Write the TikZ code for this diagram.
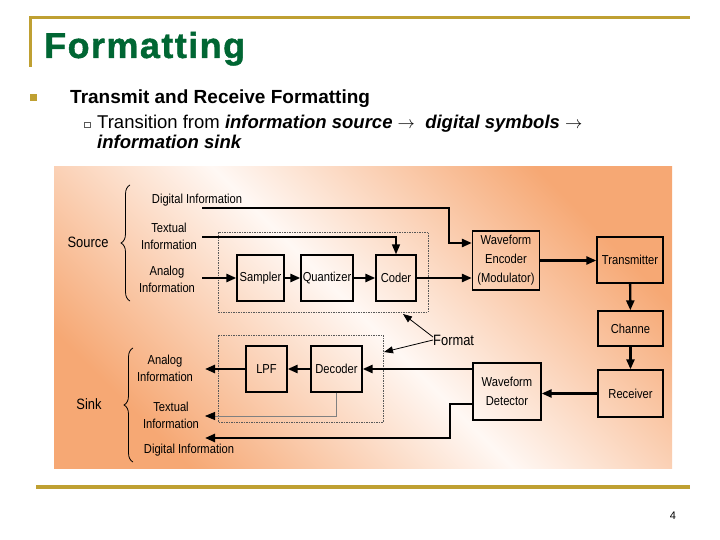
\documentclass[tikz,border=0pt]{standalone}
\usepackage{fontspec}
\setmainfont{Liberation Sans}
\newfontfamily\diagfont[FakeStretch=0.86]{Liberation Sans}
\newfontfamily\titlefont[LetterSpace=4,FakeBold=1.2]{Liberation Sans Bold}
\usetikzlibrary{arrows.meta,decorations.pathreplacing}
\definecolor{slidegold}{RGB}{191,160,50}
\definecolor{titlegreen}{RGB}{0,102,51}
\definecolor{peach}{RGB}{246,168,116}
\definecolor{cream}{RGB}{255,248,244}

\begin{document}
\begin{tikzpicture}[x=1pt, y=-1pt,
    blk/.style={draw, line width=1.3pt, inner sep=1pt, align=center,
      font=\diagfont\fontsize{13}{19}\selectfont},
    lbl/.style={align=center, inner sep=0pt,
      font=\diagfont\fontsize{13}{17}\selectfont},
    flow/.style={line width=2.4pt, -{Triangle[length=10pt,width=8pt]}},
    thinflow/.style={line width=0.8pt, -{Triangle[length=9pt,width=7pt]}},
    fmtbox/.style={dash pattern=on 1.5pt off 1pt, line width=0.8pt, gray!70!black},
    bracket/.style={decorate, decoration={brace, amplitude=9pt}, line width=0.8pt}]
    \useasboundingbox (0,0) rectangle (720,540);
    \fill[white] (0,0) rectangle (720,540);

    % Slide frame and heading.
    \draw[slidegold, line width=3pt] (30,18) -- (690,18);
    \draw[slidegold, line width=3pt] (30,16.5) -- (30,67);
    \draw[slidegold, line width=4pt] (36,487) -- (690,487);
    \node[anchor=base west, inner sep=0, text=titlegreen,
      font=\titlefont\fontsize{36}{40}\selectfont] (title) at (44,58) {Formatting};

    % Bullets.
    \fill[slidegold] (29.5,94.5) rectangle (36.5,101.5);
    \node[anchor=base west, inner sep=0, font=\fontsize{19}{21}\selectfont\bfseries]
      (head) at (70,104) {Transmit and Receive Formatting};
    \draw[gray!70!black, line width=0.7pt] (84.5,122) rectangle (90,127.5);
    \node[anchor=base west, inner sep=0, font=\fontsize{18.5}{21}\selectfont]
      (sub1) at (97,129) {Transition from \textbf{\textit{information source}} $\rightarrow$\ \ \textbf{\textit{digital symbols}} $\rightarrow$};
    \node[anchor=base west, inner sep=0, font=\fontsize{18.5}{21}\selectfont]
      (sub2) at (97,149) {\textbf{\textit{information sink}}};
    \node[font=\fontsize{11}{13}\selectfont] (pagenum) at (673,516) {4};

    % Diagram backdrop.
    \shade[top color=peach, bottom color=peach, middle color=cream, shading angle=-45]
      (54,167) rectangle (672,468);

    % Format boundaries.
    \draw[fmtbox] (218,232) rectangle (428,312);
    \draw[fmtbox] (218,335) rectangle (383,422);

    % Blocks.
    \node[blk, minimum width=47pt, minimum height=46pt] (sampler) at (260.5,278) {Sampler};
    \node[blk, minimum width=52pt, minimum height=46pt] (quantizer) at (327,278) {Quantizer};
    \node[blk, minimum width=40pt, minimum height=46pt] (coder) at (396,278) {Coder};
    \node[blk, minimum width=67pt, minimum height=59pt] (encoder) at (506,260.5)
      {Waveform\\Encoder\\(Modulator)};
    \node[blk, minimum width=66pt, minimum height=46pt] (transmitter) at (630,260) {Transmitter};
    \node[blk, minimum width=65pt, minimum height=35pt] (channel) at (630.5,328.5) {Channe};
    \node[blk, minimum width=65pt, minimum height=47pt] (receiver) at (630.5,393.5) {Receiver};
    \node[blk, minimum width=68pt, minimum height=57pt] (detector) at (507,391.5)
      {Waveform\\Detector};
    \node[blk, minimum width=41pt, minimum height=46pt] (lpf) at (266.5,369) {LPF};
    \node[blk, minimum width=51pt, minimum height=46pt] (decoder) at (336.5,369) {Decoder};

    % Source side.
    \node[lbl, font=\diagfont\fontsize{15}{17}\selectfont] (source) at (88,242) {Source};
    \draw[bracket] (130,301) -- (130,185);
    \node[lbl] (srcdigital) at (197,200) {Digital Information};
    \node[lbl] (srctextual) at (169,236.5) {Textual\\Information};
    \node[lbl] (srcanalog) at (167,279.5) {Analog\\Information};

    \coordinate (srcD) at (202,208);
    \coordinate (dturn) at (449,208);
    \coordinate (dcorner) at (449,243);
    \coordinate (srcT) at (202,237);
    \coordinate (srcA) at (202,278);
    \draw[flow] (srcD) -- (dturn) -- (dcorner) -- (dcorner -| encoder.west);
    \draw[flow, line width=1.6pt] (srcT) -| (coder.north);
    \draw[flow] (srcA) -- (sampler.west);
    \draw[flow] (sampler) -- (quantizer);
    \draw[flow] (quantizer) -- (coder);
    \draw[flow] (coder.east) -- (coder.east -| encoder.west);
    \draw[flow] (encoder.east) -- (encoder.east -| transmitter.west);
    \draw[flow] (transmitter) -- (channel);
    \draw[flow] (channel) -- (receiver);
    \draw[flow] (receiver.west) -- (receiver.west -| detector.east);

    % Sink side.
    \node[lbl, font=\diagfont\fontsize{15}{17}\selectfont] (sink) at (89,404) {Sink};
    \draw[bracket] (133,462) -- (133,348);
    \node[lbl] (sinkanalog) at (165,368.5) {Analog\\Information};
    \node[lbl] (sinktextual) at (171,415.5) {Textual\\Information};
    \node[lbl] (sinkdigital) at (189,450) {Digital Information};

    \coordinate (sinkA) at (205,369);
    \coordinate (sinkT) at (205,416);
    \coordinate (sinkD) at (205,438);
    \coordinate (dlow) at (450,438);
    \draw[flow] (detector.west |- decoder.east) -- (decoder.east);
    \draw[flow] (decoder) -- (lpf);
    \draw[flow] (lpf.west) -- (sinkA);
    \draw[gray, line width=0.8pt, -{Triangle[length=10pt,width=8pt,black]}]
      (decoder.south) |- (sinkT);
    \draw[flow] ([yshift=-12.5pt]detector.west) -| (dlow) -- (sinkD);

    % Format pointer.
    \node[lbl, anchor=west, font=\diagfont\fontsize{15}{17}\selectfont] (format) at (433,340) {Format};
    \coordinate (upfmt) at (403,314);
    \coordinate (lowfmt) at (384,352);
    \draw[thinflow] ([yshift=3pt]format.west) -- (upfmt);
    \draw[thinflow] (format.west) -- (lowfmt);
\end{tikzpicture}
\end{document}
